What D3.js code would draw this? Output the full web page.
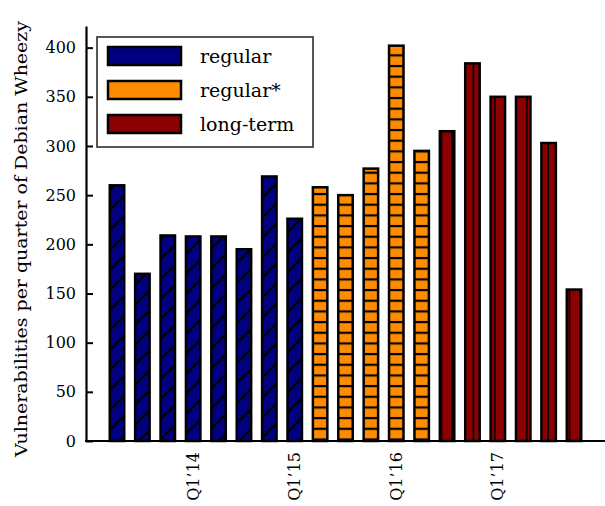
<!DOCTYPE html>
<html>
<head>
<meta charset="utf-8">
<script src="https://cdn.jsdelivr.net/npm/d3@7"></script>
<style>
  body { margin: 0; background: #fff; }
  text { font-family: "DejaVu Serif", serif; fill: #000; }
</style>
</head>
<body>
<svg id="chart" width="605" height="506"></svg>
<script>
// quarters since Wheezy release, Q2'13 .. Q4'17
const quarters = ["Q2’13", "Q3’13", "Q4’13", "Q1’14", "Q2’14", "Q3’14", "Q4’14", "Q1’15",
    "Q2’15", "Q3’15", "Q4’15", "Q1’16", "Q2’16", "Q3’16", "Q4’16", "Q1’17",
    "Q2’17", "Q3’17", "Q4’17"]
const vulns = [260, 170, 209, 208, 208, 195, 269, 226,
    258, 250, 277, 402, 295, 315, 384, 350, 350, 303, 154]
const support = ["regular", "regular", "regular", "regular", "regular", "regular", "regular", "regular",
    "regular*", "regular*", "regular*", "regular*", "regular*",
    "long-term", "long-term", "long-term", "long-term", "long-term", "long-term"]
const kinds = ["regular", "regular*", "long-term"]
const tickQuarters = ["Q1’14", "Q1’15", "Q1’16", "Q1’17"]
const yTicks = [0, 50, 100, 150, 200, 250, 300, 350, 400]

const colors = { "regular": "#000080", "regular*": "#ff8c00", "long-term": "#8b0000" }
const hatchId = { "regular": "hatch-diag", "regular*": "hatch-horiz", "long-term": "hatch-vert" }

const svg = d3.select('#chart')
const plotLeft = 86
const plotRight = 605
const plotBottom = 441
const plotTop = 26

const x = d3.scaleBand()
    .domain(quarters)
    .range([104.3, 586.7])
    .paddingInner(0.43)
    .paddingOuter(0.215)

const y = d3.scaleLinear()
    .domain([0, 422])
    .range([plotBottom, plotTop])

// 填充纹理
const defs = svg.append('defs')
defs.append('pattern')
    .attr('id', 'hatch-diag')
    .attr('patternUnits', 'userSpaceOnUse')
    .attr('width', 20).attr('height', 20)
    .call(p => {
        p.append('rect').attr('width', 20).attr('height', 20).attr('fill', colors.regular)
        p.append('path')
            .attr('d', 'M0,20L20,0M-5,5L5,-5M15,25L25,15')
            .attr('stroke', '#000').attr('stroke-width', 2)
    })
defs.append('pattern')
    .attr('id', 'hatch-horiz')
    .attr('patternUnits', 'userSpaceOnUse')
    .attr('width', 10.67).attr('height', 10.67)
    .call(p => {
        p.append('rect').attr('width', 10.67).attr('height', 10.67).attr('fill', colors['regular*'])
        p.append('path')
            .attr('d', 'M-1,2L12,2')
            .attr('stroke', '#000').attr('stroke-width', 2.2)
    })
defs.append('pattern')
    .attr('id', 'hatch-vert')
    .attr('patternUnits', 'userSpaceOnUse')
    .attr('width', 10.67).attr('height', 10.67)
    .call(p => {
        p.append('rect').attr('width', 10.67).attr('height', 10.67).attr('fill', colors['long-term'])
        p.append('path')
            .attr('d', 'M4,-1L4,12')
            .attr('stroke', '#000').attr('stroke-width', 1.6)
    })

// 柱子
svg.append('g')
    .selectAll('rect')
    .data(quarters)
    .join('rect')
    .attr('x', d => x(d))
    .attr('width', x.bandwidth())
    .attr('y', (d, i) => y(vulns[i]))
    .attr('height', (d, i) => y(0) - y(vulns[i]))
    .attr('fill', (d, i) => `url(#${hatchId[support[i]]})`)
    .attr('stroke', '#000')
    .attr('stroke-width', 2.5)

// y轴
const yAxis = svg.append('g')
    .attr('transform', `translate(${plotLeft},0)`)
    .call(d3.axisLeft(y).tickValues(yTicks).tickSizeInner(-7).tickSizeOuter(0).tickPadding(10))
yAxis.select('.domain').attr('stroke-width', 2.2)
yAxis.selectAll('.tick line').attr('stroke-width', 2)
yAxis.selectAll('.tick text').attr('font-size', 16).attr('font-family', '"DejaVu Serif", serif')

// x轴
const xAxis = svg.append('g')
    .attr('transform', `translate(0,${plotBottom})`)
    .call(d3.axisBottom(x).tickValues(tickQuarters).tickSize(0).tickPadding(0))
xAxis.select('.domain').remove()
xAxis.selectAll('.tick text')
    .attr('font-size', 16)
    .attr('font-family', '"DejaVu Serif", serif')
    .attr('transform', 'rotate(-90)')
    .attr('text-anchor', 'end')
    .attr('dy', '0.35em')
    .attr('x', -11)
    .attr('y', 0)
svg.append('line')
    .attr('x1', plotLeft - 1).attr('x2', plotRight)
    .attr('y1', plotBottom).attr('y2', plotBottom)
    .attr('stroke', '#000').attr('stroke-width', 2.2)

// y轴标题
svg.append('text')
    .attr('transform', `translate(27,${(20 + 458) / 2}) rotate(-90)`)
    .attr('text-anchor', 'middle')
    .attr('font-size', 16)
    .attr('textLength', 436)
    .attr('lengthAdjust', 'spacingAndGlyphs')
    .text('Vulnerabilities per quarter of Debian Wheezy')

// 图例
const legend = svg.append('g')
legend.append('rect')
    .attr('x', 97).attr('y', 37)
    .attr('width', 216).attr('height', 110)
    .attr('fill', '#fff')
    .attr('stroke', '#444')
    .attr('stroke-width', 1.8)
const item = legend.selectAll('.item')
    .data(kinds)
    .join('g')
    .attr('class', 'item')
    .attr('transform', (d, i) => `translate(0,${47 + i * 34})`)
item.append('rect')
    .attr('x', 108).attr('width', 73)
    .attr('height', 18)
    .attr('fill', d => colors[d])
    .attr('stroke', '#000')
    .attr('stroke-width', 2.5)
item.append('text')
    .attr('x', 200).attr('y', 9)
    .attr('dy', '0.35em')
    .attr('font-size', 19)
    .text(d => d)
</script>
</body>
</html>
